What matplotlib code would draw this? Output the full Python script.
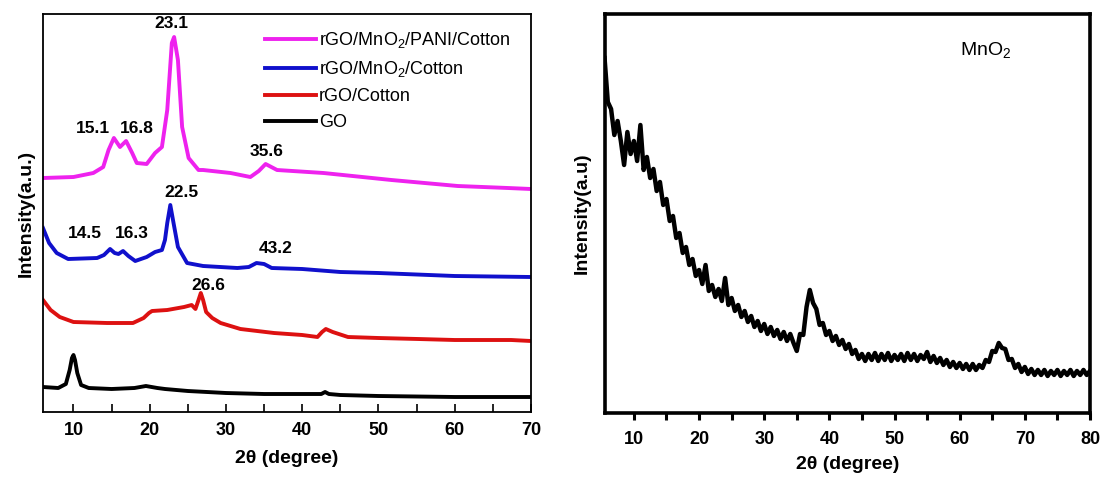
import numpy as np
import matplotlib
matplotlib.use('Agg')
import matplotlib.pyplot as plt
from matplotlib.ticker import MultipleLocator

plt.rcParams['font.family'] = ['Liberation Sans', 'DejaVu Sans']
plt.rcParams['mathtext.default'] = 'regular'

# ---- left panel: XRD of the composites (intensity in a.u.) ----
go_x = [6, 8, 9, 9.5, 9.8, 10, 10.2, 10.5, 11, 12, 15, 18, 19.5, 21, 22, 25, 30, 35, 40, 42.5, 43, 43.5, 45, 50, 60, 70]
go_y = [25, 24, 28, 42, 54, 57, 52, 39, 27, 24, 23, 24, 26, 24, 23, 21, 19, 18, 18, 18, 20, 18, 17, 16, 15, 15]

rgo_x = [6, 7, 8.2, 10, 14.4, 17.8, 19.2, 19.9, 20.3, 22.3, 24.5, 25.5, 26, 26.4, 26.7, 27, 27.4, 28.2, 29.3, 31.9,
         36.3, 40, 42, 42.6, 43.1, 44, 46, 50, 55.2, 60, 67.4, 70]
rgo_y = [112, 102, 95, 90, 89, 89, 94, 99, 101, 102, 105, 107, 103, 112, 119, 112, 100, 94, 89, 83,
         79, 77, 75, 80, 83, 80, 75, 74, 73, 72, 72, 71]

mno_x = [6, 6.8, 7.8, 9.3, 13.1, 14, 14.8, 15.4, 15.9, 16.5, 17.2, 18.1, 19.6, 20.7, 21.6, 22, 22.3, 22.7, 23.1, 23.7,
         24.9, 27, 31.5, 33, 34, 35, 36, 40, 45, 50, 60, 70]
mno_y = [184, 169, 159, 153, 154, 157, 163, 159, 158, 161, 156, 151, 155, 160, 162, 172, 189, 207, 190, 165,
         149, 146, 144, 145, 149, 148, 144, 143, 140, 139, 136, 135]

pani_x = [6, 10, 12.6, 13.9, 14.6, 15.3, 16.1, 16.9, 17.7, 18.3, 19.6, 20.7, 21.6, 22.3, 22.9, 23.2, 23.7, 24.25, 25.1,
          26.4, 27, 30.6, 33.2, 34.3, 35.2, 36.7, 42.8, 51.7, 60.4, 67, 70]
pani_y = [234, 235, 239, 245, 262, 274, 265, 271, 259, 249, 248, 259, 265, 302, 369, 375, 352, 285, 254,
          242, 242, 239, 235, 241, 248, 242, 239, 232, 226, 224, 223]

peak_labels = ['23.1', '15.1', '16.8', '35.6', '22.5', '14.5', '16.3', '43.2', '26.6']
peak_lx = [22.8, 12.5, 18.3, 35.3, 24.1, 11.5, 17.7, 36.5, 27.7]
peak_ly = [389, 284, 284, 261, 220, 179, 179, 164, 127]

# ---- right panel: MnO2 ----
mn_x = np.arange(5.5, 80.25, 0.5)
mn_y = [355, 311, 304, 278, 292, 272, 248, 281, 259, 272, 252, 288, 243, 256, 235, 244, 222, 231, 208, 214,
        192, 197, 175, 180, 160, 166, 148, 154, 137, 143, 129, 148, 122, 128, 116, 124, 112, 135, 108, 115,
        102, 108, 96, 102, 91, 97, 86, 92, 82, 89, 79, 86, 77, 83, 74, 81, 72, 79, 70, 62,
        79, 78, 106, 123, 110, 104, 88, 90, 78, 82, 72, 77, 68, 73, 64, 69, 59, 63, 54, 59,
        52, 59, 53, 60, 52, 59, 53, 60, 52, 58, 53, 59, 52, 60, 53, 59, 52, 58, 54, 61,
        51, 57, 50, 55, 48, 53, 46, 51, 45, 50, 44, 49, 43, 49, 43, 48, 45, 53, 51, 62,
        61, 70, 65, 64, 53, 54, 45, 49, 41, 46, 39, 44, 38, 43, 38, 43, 37, 42, 38, 43,
        37, 42, 38, 43, 37, 42, 38, 43, 38, 42]

fig = plt.figure(figsize=(11.02, 4.83), dpi=100)
ax1 = fig.add_axes([0.039, 0.147, 0.4428, 0.824])
ax2 = fig.add_axes([0.5486, 0.145, 0.4405, 0.826])

ax1.plot(pani_x, pani_y, color='#ee22ee', lw=2.8, label='rGO/MnO$_2$/PANI/Cotton')
ax1.plot(mno_x, mno_y, color='#1010cc', lw=2.8, label='rGO/MnO$_2$/Cotton')
ax1.plot(rgo_x, rgo_y, color='#dd1111', lw=2.8, label='rGO/Cotton')
ax1.plot(go_x, go_y, color='black', lw=2.8, label='GO')

for t, lx, ly in zip(peak_labels, peak_lx, peak_ly):
    ax1.text(lx, ly, t, ha='center', va='center', fontsize=12.5, fontweight='bold')

ax1.set_xlim(6, 70)
ax1.set_ylim(0, 398)
ax1.set_yticks([])
ax1.xaxis.set_major_locator(MultipleLocator(10))
ax1.xaxis.set_minor_locator(MultipleLocator(5))
ax1.tick_params(axis='x', which='both', direction='in', length=6, width=1.2, pad=7)
for lab in ax1.get_xticklabels():
    lab.set_fontweight('bold')
    lab.set_fontsize(13)
for s in ax1.spines.values():
    s.set_linewidth(1.3)
ax1.set_xlabel('2θ (degree)', fontsize=14, fontweight='bold', labelpad=8)
ax1.set_ylabel('Intensity(a.u.)', fontsize=14, fontweight='bold', labelpad=6)

leg = ax1.legend(loc='upper left', bbox_to_anchor=(0.455, 0.96), frameon=False, fontsize=13,
                 handlelength=2.8, handletextpad=0.2, labelspacing=0.5, borderpad=0, borderaxespad=0)

ax2.plot(mn_x, mn_y, color='black', lw=3.2)
ax2.text(0.785, 0.91, 'MnO$_2$', transform=ax2.transAxes, ha='center', va='center', fontsize=14)
ax2.set_xlim(5.5, 80)
ax2.set_ylim(0, 399)
ax2.set_yticks([])
ax2.xaxis.set_major_locator(MultipleLocator(10))
ax2.xaxis.set_minor_locator(MultipleLocator(5))
ax2.tick_params(axis='x', which='both', direction='out', length=5, width=2.2, pad=8)
for lab in ax2.get_xticklabels():
    lab.set_fontweight('bold')
    lab.set_fontsize(13)
for s in ax2.spines.values():
    s.set_linewidth(2.6)
ax2.set_xlabel('2θ (degree)', fontsize=14, fontweight='bold', labelpad=6)
ax2.set_ylabel('Intensity(a.u)', fontsize=14, fontweight='bold', labelpad=10)

fig.savefig('out.png', dpi=100)
